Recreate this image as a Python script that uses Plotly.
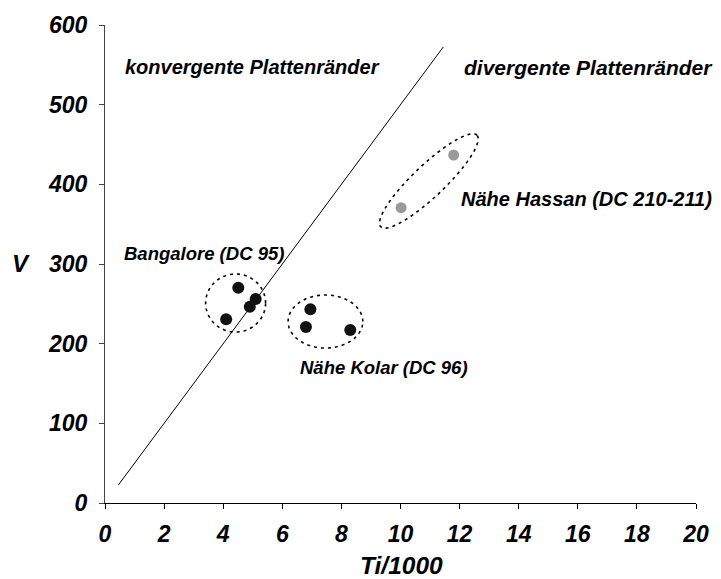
import numpy as np
import plotly.graph_objects as go

# ---- data ----
bangalore_ti = [4.10, 4.51, 4.90, 5.10]
bangalore_v = [230.6, 270.2, 246.4, 256.1]
kolar_ti = [6.95, 6.80, 8.30]
kolar_v = [243.1, 220.9, 217.1]
hassan_ti = [11.80, 10.02]
hassan_v = [436.8, 370.7]
boundary_ti = [0.45, 11.45]
ti_v_ratio = 50  # Ti/V = 50 boundary

x_ticks = list(range(0, 21, 2))
y_ticks = list(range(0, 601, 100))

FONT = "Liberation Sans, Arial, sans-serif"

# plot area geometry (px) for converting pixel-sized ellipses
L, R, T, B = 104.5, 15.3, 25, 76
W, H = 721, 579
pw, ph = W - L - R, H - T - B
sx, sy = pw / 20.0, ph / 600.0


def ellipse_path(cx, cy, a_px, b_px, ang_deg, n=120):
    t = np.linspace(0, 2 * np.pi, n)
    ang = np.radians(ang_deg)
    dx = a_px * np.cos(t) * np.cos(ang) - b_px * np.sin(t) * np.sin(ang)
    dy = a_px * np.cos(t) * np.sin(ang) + b_px * np.sin(t) * np.cos(ang)
    xs = cx + dx / sx
    ys = cy + dy / sy
    p = "M %f,%f " % (xs[0], ys[0]) + " ".join("L %f,%f" % (x, y) for x, y in zip(xs[1:], ys[1:])) + " Z"
    return p


# group ellipses: center (data), semi-axes (px), angle
groups = [
    (4.42, 251.0, 30.5, 29.0, 0),
    (7.46, 227.8, 38.0, 26.5, 0),
    (10.96, 404.2, 67.0, 16.0, 43),
]

fig = go.Figure()

fig.add_trace(go.Scatter(
    x=boundary_ti, y=[ti_v_ratio * t for t in boundary_ti], mode="lines",
    line=dict(color="black", width=1), hoverinfo="skip", showlegend=False))

fig.add_trace(go.Scatter(x=bangalore_ti, y=bangalore_v, mode="markers",
                         marker=dict(color="#111111", size=12), showlegend=False))
fig.add_trace(go.Scatter(x=kolar_ti, y=kolar_v, mode="markers",
                         marker=dict(color="#111111", size=12), showlegend=False))
fig.add_trace(go.Scatter(x=hassan_ti, y=hassan_v, mode="markers",
                         marker=dict(color="#999999", size=11), showlegend=False))

shapes = []
for cx, cy, a, b, ang in groups:
    shapes.append(dict(type="path", xref="x", yref="y", path=ellipse_path(cx, cy, a, b, ang),
                       line=dict(color="black", width=1.6, dash="3px,4px")))


def bi(s):
    return "<b><i>%s</i></b>" % s


annotations = [
    dict(x=4.99, y=547.0, text=bi("konvergente Plattenränder"), size=20),
    dict(x=16.35, y=547.0, text=bi("divergente Plattenränder"), size=21),
    dict(x=3.36, y=313.8, text=bi("Bangalore (DC 95)"), size=18.5),
    dict(x=9.43, y=170.7, text=bi("Nähe Kolar (DC 96)"), size=18.5),
    dict(x=16.29, y=381.6, text=bi("Nähe Hassan (DC 210-211)"), size=20),
]
for a in annotations:
    sz = a.pop("size")
    a.update(xref="x", yref="y", showarrow=False, font=dict(family=FONT, size=sz, color="black"),
             xanchor="center", yanchor="middle")

annotations.append(dict(xref="paper", yref="paper", x=(406 - L) / pw, y=(503 - 565) / ph, text=bi("Ti/1000"),
                        showarrow=False, font=dict(family=FONT, size=24.5, color="black"),
                        xanchor="center", yanchor="middle"))
annotations.append(dict(xref="paper", yref="paper", x=(19 - L) / pw, y=(503 - 263.7) / ph, text=bi("V"),
                        showarrow=False, font=dict(family=FONT, size=24, color="black"),
                        xanchor="center", yanchor="middle"))

tick_font = dict(family=FONT, size=23, color="black")

fig.update_layout(
    width=W, height=H,
    margin=dict(l=L, r=R, t=T, b=B, pad=0),
    paper_bgcolor="white", plot_bgcolor="white",
    shapes=shapes, annotations=annotations,
    xaxis=dict(range=[0, 20], tickvals=x_ticks, ticktext=[bi(v) for v in x_ticks],
               showgrid=False, zeroline=False, showline=True, linecolor="black", linewidth=1.3,
               ticks="outside", ticklen=5, tickwidth=1.3, tickcolor="black",
               tickfont=tick_font, ticklabelstandoff=5),
    yaxis=dict(range=[0, 600], tickvals=y_ticks, ticktext=[bi(v) for v in y_ticks],
               showgrid=False, zeroline=False, showline=True, linecolor="#444444", linewidth=1.3,
               ticks="outside", ticklen=5, tickwidth=1.3, tickcolor="#444444",
               tickfont=tick_font, ticklabelstandoff=7),
    xaxis2=dict(range=[0, 20], tickvals=x_ticks, overlaying="x", anchor="y", side="bottom",
                showgrid=False, zeroline=False, showline=False, showticklabels=False,
                ticks="inside", ticklen=5, tickwidth=1.3, tickcolor="black"),
    yaxis2=dict(range=[0, 600], tickvals=y_ticks, overlaying="y", anchor="x", side="left",
                showgrid=False, zeroline=False, showline=False, showticklabels=False,
                ticks="inside", ticklen=5, tickwidth=1.3, tickcolor="#444444"),
)

fig.write_html("out.html")
